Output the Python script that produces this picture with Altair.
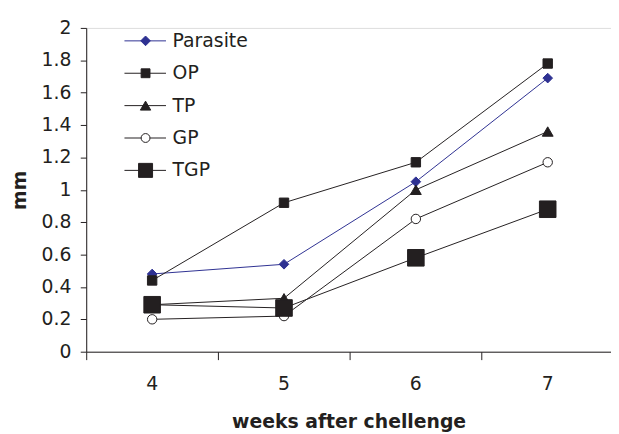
import altair as alt
import pandas as pd

# ---- data ----
weeks = [4, 5, 6, 7]
series = ["Parasite", "OP", "TP", "GP", "TGP"]
parasite = [0.48, 0.54, 1.05, 1.69]
op = [0.44, 0.92, 1.17, 1.78]
tp = [0.29, 0.33, 1.00, 1.36]
gp = [0.20, 0.22, 0.82, 1.17]
tgp = [0.29, 0.27, 0.58, 0.88]
y_ticks = [0, 0.2, 0.4, 0.6, 0.8, 1, 1.2, 1.4, 1.6, 1.8, 2]
y_labels = ["0", "0.2", "0.4", "0.6", "0.8", "1", "1.2", "1.4", "1.6", "1.8", "2"]
x_labels = ["4", "5", "6", "7"]
x_ticks = [3.5, 4.5, 5.5, 6.5, 7.5]

# ---- styles ----
BLUE = "#2e3192"
BLACK = "#231f20"
stroke_colors = [BLUE, BLACK, BLACK, BLACK, BLACK]
fill_colors = [BLUE, BLACK, BLACK, "#ffffff", BLACK]
shapes = ["diamond", "square", "triangle-up", "circle", "square"]
sizes = [95, 90, 120, 90, 280]
leg_sizes = [95, 80, 110, 80, 200]
FONT = "DejaVu Sans"
LABEL_SIZE = 19

# legend layout (in data units of the chart's own scales)
leg_y = [1.92, 1.72, 1.52, 1.32, 1.12]
leg_x1, leg_x2, leg_xm, leg_xt = 3.79, 4.105, 3.95, 4.155

values = [parasite, op, tp, gp, tgp]
rows = []
for i, (s, vals) in enumerate(zip(series, values)):
    for w, v in zip(weeks, vals):
        rows.append({"series": s, "week": w, "value": v, "sz": sizes[i], "k": i})
df = pd.DataFrame(rows)

leg = pd.DataFrame({
    "series": series,
    "ly": leg_y,
    "x1": [leg_x1] * 5,
    "x2": [leg_x2] * 5,
    "xm": [leg_xm] * 5,
    "xt": [leg_xt] * 5,
    "sz": leg_sizes,
})
ylab = pd.DataFrame({"v": y_ticks, "lab": y_labels})
xlab = pd.DataFrame({"w": weeks, "lab": x_labels})

xscale = alt.Scale(domain=[3.5, 7.48], nice=False, zero=False)
yscale = alt.Scale(domain=[0, 2], nice=False)
stroke_scale = alt.Scale(domain=series, range=stroke_colors)
fill_scale = alt.Scale(domain=series, range=fill_colors)
shape_scale = alt.Scale(domain=series, range=shapes)

x_axis = alt.Axis(
    values=x_ticks, labels=False, tickSize=8,
    title="weeks after chellenge", titlePadding=53,
)
y_axis = alt.Axis(
    values=y_ticks, labels=False, tickSize=6,
    title="mm", titlePadding=51,
)


def X(field):
    return alt.X(field, type="quantitative", scale=xscale, axis=x_axis)


def Y(field):
    return alt.Y(field, type="quantitative", scale=yscale, axis=y_axis)


lines = alt.Chart(df).mark_line(strokeWidth=1).encode(
    x=X("week"),
    y=Y("value"),
    color=alt.Color("series:N", scale=stroke_scale, legend=None),
    detail="series:N",
)

points = alt.Chart(df).mark_point(opacity=1, fillOpacity=1, strokeWidth=1).encode(
    x=X("week"),
    y=Y("value"),
    stroke=alt.Stroke("series:N", scale=stroke_scale, legend=None),
    fill=alt.Fill("series:N", scale=fill_scale, legend=None),
    shape=alt.Shape("series:N", scale=shape_scale, legend=None),
    size=alt.Size("sz:Q", scale=None, legend=None),
    order=alt.Order("k:Q"),
)

# tick labels drawn through the chart's own scales
y_tick_text = alt.Chart(ylab).mark_text(
    align="right", baseline="middle", font=FONT, fontSize=LABEL_SIZE, color=BLACK
).encode(
    x=alt.value(-15),
    y=Y("v"),
    text="lab:N",
)
x_tick_text = alt.Chart(xlab).mark_text(
    align="center", baseline="middle", font=FONT, fontSize=LABEL_SIZE, color=BLACK
).encode(
    x=X("w"),
    y=alt.value(360),
    text="lab:N",
)

leg_lines = alt.Chart(leg).mark_rule(strokeWidth=1).encode(
    x=X("x1"),
    x2="x2:Q",
    y=Y("ly"),
    color=alt.Color("series:N", scale=stroke_scale, legend=None),
)
leg_points = alt.Chart(leg).mark_point(opacity=1, fillOpacity=1, strokeWidth=1).encode(
    x=X("xm"),
    y=Y("ly"),
    stroke=alt.Stroke("series:N", scale=stroke_scale, legend=None),
    fill=alt.Fill("series:N", scale=fill_scale, legend=None),
    shape=alt.Shape("series:N", scale=shape_scale, legend=None),
    size=alt.Size("sz:Q", scale=None, legend=None),
)
leg_text = alt.Chart(leg).mark_text(
    align="left", baseline="middle", font=FONT, fontSize=19, color=BLACK
).encode(
    x=X("xt"),
    y=Y("ly"),
    text="series:N",
)

chart = alt.layer(
    lines, points, y_tick_text, x_tick_text, leg_lines, leg_points, leg_text
).properties(
    width=530, height=327,
    autosize=alt.AutoSizeParams(type="none"),
    padding={"left": 79, "top": 18, "right": 0, "bottom": 80},
).configure_view(stroke=None).configure(background="white").configure_axis(
    titleFont=FONT, titleFontSize=19, titleFontWeight="bold", titleColor=BLACK,
    domainColor=BLACK, tickColor=BLACK, grid=False,
)

chart.save("out.html", embed_options={"renderer": "svg", "actions": False})
